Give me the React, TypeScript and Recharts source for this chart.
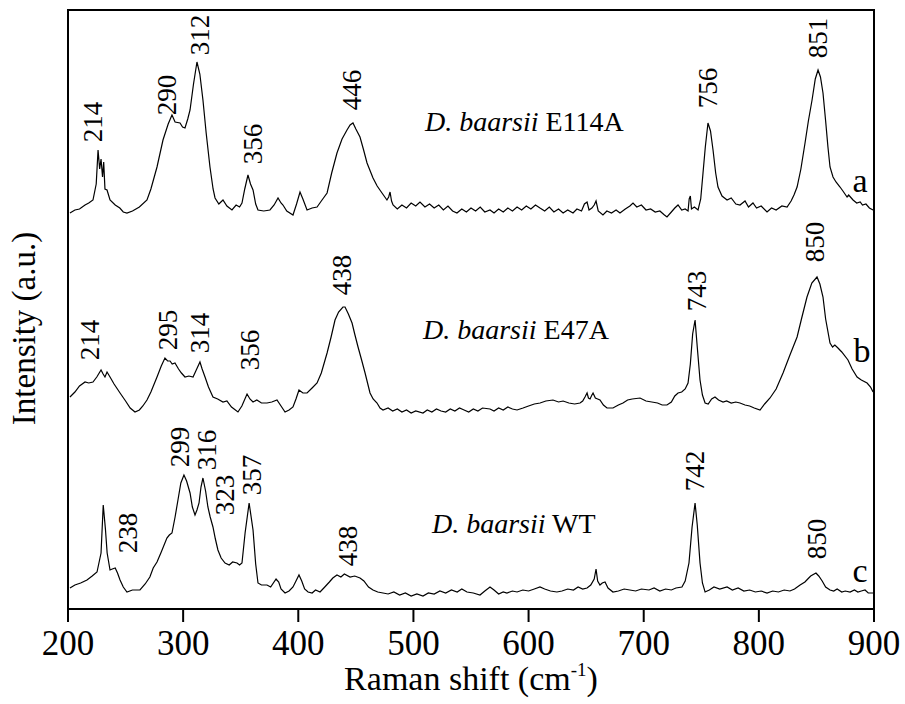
import React from "react";
import { ComposedChart, Line, Scatter, XAxis, YAxis, ReferenceArea, Label } from "recharts";

// Raman shift (cm-1), offset intensity (a.u.)
const traceA: [number, number][] = [
  [201.7, 396], [206, 399], [210, 400], [214.8, 404], [218, 406], [221.7, 409], [224.5, 425], [226.1, 459], [227.5, 440],
  [228.7, 450], [230, 432], [231, 447], [232.1, 420], [233.9, 419], [236.5, 409], [241, 404], [245, 401],
  [248, 397], [251.2, 396], [256, 398], [262, 402], [268.6, 409], [272, 420], [277.3, 442], [282.5, 469],
  [287, 485], [290.3, 494], [293, 487], [297.3, 486], [299.5, 482], [301.6, 481], [304, 490], [306, 499],
  [309, 525], [312, 547], [314.5, 535], [317.2, 509], [320, 476], [323.3, 442], [326, 420], [327.7, 411],
  [331, 405], [334.6, 409], [338, 403], [342.4, 399], [346, 404], [349, 402], [351.1, 406], [353.5, 420],
  [356.3, 434], [358.5, 425], [360.7, 419], [363, 405], [365, 399], [370, 398], [375.4, 399], [379, 404],
  [382.4, 411], [385, 406], [386.7, 404], [390, 398], [395.4, 394], [398.5, 405], [401.5, 417], [404, 410],
  [407.6, 399], [412, 401], [416.3, 402], [420, 408], [425, 416], [429, 436], [433.6, 456], [438, 470],
  [442.3, 479], [445, 484], [447.5, 486], [450, 480], [453.6, 472], [456.5, 460], [459.7, 446], [464.9, 431],
  [468.5, 423], [472.7, 416], [477, 409], [478.5, 412], [479.7, 417], [481, 408], [482.3, 404], [486, 400],
  [490, 404], [494, 401], [498, 406], [502, 403], [505.7, 407], [510, 402], [514, 405], [518, 401],
  [522, 404], [526, 399], [530, 403], [534, 398], [537.8, 396], [542, 400], [546, 397], [550, 401],
  [554, 398], [558, 402], [562, 397], [566.5, 399], [570, 396], [574, 400], [578, 397], [582, 401],
  [586, 398], [590, 402], [594, 399], [598, 403], [602, 400], [606, 404], [609.9, 401], [614, 398],
  [618, 402], [622, 397], [626, 400], [630, 396], [634, 399], [638.6, 396], [642, 400], [646, 398],
  [648.5, 405], [650.8, 407], [652.5, 399], [655, 401], [657, 404], [658.6, 408], [660.5, 398], [664.6, 394],
  [668, 398], [672, 396], [676, 399], [679.4, 396], [684, 400], [688, 403], [690.7, 406], [694, 402],
  [698, 404], [702, 399], [706, 400], [710, 397], [714, 398], [718, 394], [720.2, 392], [724, 397],
  [727, 401], [729.8, 404], [733, 399], [736, 400], [738.5, 398], [739.5, 410], [740.5, 413], [741.5, 400],
  [744, 402], [747.2, 399], [749.5, 410], [751.5, 436], [753.5, 462], [755.8, 486], [758, 478], [760.2, 459],
  [762.5, 436], [764.5, 422], [768, 413], [772.4, 409], [776, 411], [780, 405], [783.6, 404], [788, 408],
  [791, 402], [794.9, 406], [798, 401], [802, 403], [807.1, 397], [811, 401], [815, 399], [820, 403],
  [824.5, 402], [828, 408], [830.5, 414], [833.2, 422], [836.5, 440], [840.1, 466], [843, 488], [846.2, 509],
  [849, 530], [851.4, 539], [853.5, 532], [855.7, 516], [858, 488], [860, 462], [861.8, 442], [864.4, 432],
  [867, 427], [870.5, 422], [873, 418], [876.6, 412], [878, 414], [881.8, 409], [885, 406], [888, 407],
  [890, 404], [893, 405], [896, 401], [899.2, 399],
];

const traceB: [number, number][] = [
  [201.7, 212], [206, 217], [210, 223], [214.8, 227], [218, 226], [221.7, 227], [225, 232], [228.7, 239],
  [230.5, 235], [232.1, 232], [233.9, 237], [236.5, 232], [240, 225], [245.2, 216], [250, 208], [254, 201],
  [258.2, 197], [262, 199], [265, 203], [268.6, 209], [272, 217], [277.3, 232], [281, 243], [284.2, 251],
  [286.5, 248], [288.6, 248], [290.5, 245], [292.9, 246], [296, 240], [298.5, 236], [301.6, 232], [305, 233],
  [308.6, 232], [311, 238], [314.6, 247], [316.5, 240], [319, 232], [322, 222], [325.9, 212], [330, 210],
  [334.6, 207], [338, 208], [342, 202], [347.6, 197], [351, 203], [355.5, 215], [358, 210], [360.7, 207],
  [364, 209], [368, 206], [372.8, 206], [377, 207], [381.5, 209], [385, 203], [388.5, 197], [392, 199],
  [395.4, 202], [398, 210], [400.6, 219], [404, 216], [407.6, 216], [412, 221], [416.3, 226], [420, 236],
  [425, 256], [428.5, 272], [431.9, 289], [435, 297], [438.8, 302], [440.6, 302], [443.5, 295], [446.7, 286],
  [449, 275], [451.9, 262], [455, 249], [458, 236], [462.3, 216], [465, 210], [468.4, 206], [471, 201],
  [473.6, 199], [478, 201], [482, 198], [486, 200], [490, 197], [494, 199], [498, 196], [502, 198],
  [508.3, 196], [512, 199], [516, 197], [520, 200], [524, 198], [528, 197], [532, 200], [536, 198],
  [540, 201], [544, 199], [548, 197], [552, 200], [556, 198], [560, 201], [566.5, 200], [570, 198],
  [574, 201], [578, 199], [582, 202], [586, 200], [590, 199], [595.2, 201], [600, 203], [605, 205],
  [610, 206], [615, 208], [621.2, 209], [626, 207], [630, 208], [635, 206], [640, 205], [644.7, 206],
  [647, 208], [649, 212], [650.8, 216], [652, 211], [653.4, 210], [655, 214], [656, 216], [658, 211],
  [660, 210], [662, 209], [665, 204], [668.1, 201], [673.3, 201], [678, 204], [682, 206], [686, 209],
  [690, 210], [696.8, 211], [702, 208], [707, 207], [712, 206], [716, 204], [720.2, 204], [724, 207],
  [727, 213], [729.8, 216], [733, 217], [736, 220], [738.5, 226], [740.5, 245], [742.5, 275], [744.6, 289],
  [746.5, 262], [748.9, 229], [751, 214], [753.3, 206], [756, 205], [759, 210], [761.9, 212], [765, 209],
  [768.9, 207], [772, 208], [776, 206], [780, 207], [783.6, 206], [788, 204], [792, 203], [796, 201],
  [801, 199], [805, 205], [809.7, 211], [815, 220], [821, 236], [827, 254], [833.2, 272], [837, 290],
  [841.8, 312], [846, 326], [850.5, 332], [853, 325], [855.7, 312], [858, 290], [861.8, 266], [864, 262],
  [866, 264], [868.7, 261], [872, 257], [877.4, 249], [881, 240], [885.3, 232], [889, 229], [894, 226],
  [897, 222], [899.2, 217],
];

const traceC: [number, number][] = [
  [201.7, 21], [206, 24], [211, 26], [216.5, 29], [221, 33], [225.2, 37], [228.7, 56], [230.6, 104],
  [232.5, 80], [234, 56], [236.5, 39], [238.5, 40], [241, 41], [243, 36], [245.2, 29], [248, 22],
  [251.2, 17], [256, 19], [262.5, 19], [267, 25], [271.1, 32], [274, 41], [277.3, 47], [281, 57],
  [285.9, 71], [288, 74], [290.3, 76], [293, 92], [295.5, 109], [298, 126], [300.7, 134], [303, 128],
  [306, 116], [308, 102], [310.3, 94], [312, 99], [313.8, 106], [315.5, 122], [317.2, 131], [319.5, 118],
  [321.5, 102], [323.5, 92], [325.9, 82], [328, 70], [330.2, 59], [333, 51], [336.4, 46], [340, 44],
  [343, 47], [346.8, 46], [349, 44], [351.1, 46], [353.8, 76], [357.3, 106], [360.7, 79], [363, 45],
  [365, 26], [368, 24], [372.8, 24], [376, 22], [380.7, 30], [383, 27], [385, 20], [388.5, 16],
  [392, 18], [395.4, 22], [398, 28], [400.6, 34], [403, 28], [405.5, 20], [408.5, 17], [412, 16],
  [415, 19], [418.9, 17], [423, 22], [427, 27], [430, 31], [433.6, 34], [437, 32], [440, 35],
  [445, 32], [449, 33], [453.6, 31], [457, 28], [461, 22], [464.9, 19], [469, 17], [473.6, 16],
  [478, 15], [483, 17], [488, 14], [493, 16], [498, 13], [503, 15], [508.3, 13], [513, 16],
  [518, 15], [523, 18], [528, 16], [533, 19], [538, 17], [542, 20], [546.5, 17], [552, 16],
  [557.8, 14], [562, 18], [566.5, 22], [570, 19], [574, 15], [578, 17], [581.2, 16], [586, 18],
  [590, 17], [595, 19], [600, 18], [605, 20], [609.9, 22], [614, 20], [619, 18], [624.6, 17],
  [629, 18], [634, 20], [639, 19], [643, 22], [647, 20], [650.8, 21], [654, 24], [657, 30],
  [658.6, 40], [660, 28], [662, 24], [664, 26], [666.4, 27], [669, 21], [673.3, 17], [678, 18],
  [683, 20], [688, 19], [693, 18], [698, 20], [704.6, 19], [709, 21], [714, 18], [719, 20],
  [724, 19], [728, 21], [733.2, 22], [736, 28], [739.3, 46], [742, 82], [744.6, 106], [746.5, 84],
  [748.9, 46], [751, 26], [753.3, 17], [757, 19], [761, 22], [766, 20], [772.4, 22], [777, 19],
  [782, 21], [787, 18], [792, 19], [797, 17], [802, 18], [807.1, 16], [812, 18], [817, 17],
  [822, 19], [827, 18], [831, 20], [835.8, 24], [840, 27], [845, 33], [849.6, 36], [852, 33],
  [855, 28], [858, 22], [861.8, 19], [865, 18], [868, 20], [872, 17], [875, 18], [879.2, 17],
  [883, 19], [886, 17], [889, 18], [892.2, 19], [895, 16], [899.2, 16],
];

const peakLabelText = [
  "214", "290", "312", "356", "446", "756", "851",
  "214", "295", "314", "356", "438", "743", "850",
  "299", "316", "323", "357", "238", "438", "742", "850",
];
const peakLabelShift = [
  221.7, 286, 314.6, 360.7, 446.7, 755.8, 851.4,
  219, 286.9, 314.6, 358, 438, 746.3, 848.8,
  297.3, 320.7, 336.4, 359.8, 252.1, 443, 744.6, 850.5,
];
const peakLabelIntensity = [
  487, 514, 574, 465, 519, 521, 571,
  269, 279, 276, 259, 334, 318, 367,
  162, 159, 114, 134, 76, 63, 138, 70,
];

const sampleNames = ["E114A", "E47A", "WT"];
const sampleShift = [510, 508.3, 516.1];
const sampleIntensity = [478, 270, 76];

const traceLetters = ["a", "b", "c"];
const letterShift = [887.9, 889.6, 887.9];
const letterIntensity = [417, 247, 27];

const xTicks = [200, 300, 400, 500, 600, 700, 800, 900];
const yTicks = [222, 452];

const FONT = "Liberation Serif, Times New Roman, serif";

const toPoints = (arr: [number, number][]) => arr.map(([x, y]) => ({ x, y }));
const dataA = toPoints(traceA);
const dataB = toPoints(traceB);
const dataC = toPoints(traceC);
const peakLabels = peakLabelText.map((text, i) => ({ x: peakLabelShift[i], y: peakLabelIntensity[i], text }));
const sampleLabels = sampleNames.map((text, i) => ({ x: sampleShift[i], y: sampleIntensity[i], text }));
const letterLabels = traceLetters.map((text, i) => ({ x: letterShift[i], y: letterIntensity[i], text }));

const PeakLabel = (p: any) => (
  <text
    x={p.cx}
    y={p.cy}
    transform={`rotate(-90 ${p.cx} ${p.cy})`}
    textAnchor="middle"
    dominantBaseline="central"
    fontFamily={FONT}
    fontSize={27}
    fill="#000"
  >
    {p.payload.text}
  </text>
);

const SampleLabel = (p: any) => (
  <text x={p.cx} y={p.cy} textAnchor="start" fontFamily={FONT} fontSize={28} fill="#000">
    <tspan fontStyle="italic">D. baarsii</tspan>
    <tspan> {p.payload.text}</tspan>
  </text>
);

const LetterLabel = (p: any) => (
  <text x={p.cx} y={p.cy} textAnchor="middle" fontFamily={FONT} fontSize={34} fill="#000">
    {p.payload.text}
  </text>
);

const XLabel = (props: any) => {
  const vb = props.viewBox;
  return (
    <text x={vb.x + vb.width / 2} y={vb.y + 81} textAnchor="middle" fontFamily={FONT} fontSize={34} fill="#000">
      Raman shift (cm
      <tspan fontSize={19} dy={-14}>-1</tspan>
      <tspan dy={14}>)</tspan>
    </text>
  );
};

const YLabel = (props: any) => {
  const vb = props.viewBox;
  const x = vb.x + 35;
  const y = vb.y + 318.5;
  return (
    <text x={x} y={y} transform={`rotate(-90 ${x} ${y})`} textAnchor="middle" fontFamily={FONT} fontSize={33} fill="#000">
      Intensity (a.u.)
    </text>
  );
};

export default function App() {
  return (
    <div style={{ position: "absolute", left: 0, top: 0, width: 905, height: 704 }}>
      <ComposedChart width={905} height={704} margin={{ top: 10, right: 31, bottom: 0, left: 0 }}>
        <XAxis
          type="number"
          dataKey="x"
          domain={[200, 900]}
          ticks={xTicks}
          allowDataOverflow
          height={95}
          tickSize={13}
          tickMargin={8}
          axisLine={{ stroke: "#000", strokeWidth: 2 }}
          tickLine={{ stroke: "#000", strokeWidth: 2 }}
          tick={{ fontFamily: FONT, fontSize: 35, fill: "#000" }}
        >
          <Label content={XLabel} />
        </XAxis>
        <YAxis
          type="number"
          domain={[0, 599]}
          ticks={yTicks}
          allowDataOverflow
          width={68}
          tick={false}
          tickSize={-5}
          axisLine={{ stroke: "#000", strokeWidth: 2 }}
          tickLine={{ stroke: "#000", strokeWidth: 1.5 }}
        >
          <Label content={YLabel} />
        </YAxis>
        <ReferenceArea x1={200} x2={900} y1={0} y2={599} fill="none" stroke="#000" strokeWidth={2} ifOverflow="visible" />
        <Line data={dataA} dataKey="y" type="linear" dot={false} stroke="#000" strokeWidth={1.2} isAnimationActive={false} />
        <Line data={dataB} dataKey="y" type="linear" dot={false} stroke="#000" strokeWidth={1.2} isAnimationActive={false} />
        <Line data={dataC} dataKey="y" type="linear" dot={false} stroke="#000" strokeWidth={1.2} isAnimationActive={false} />
        <Scatter data={peakLabels} dataKey="y" shape={PeakLabel} isAnimationActive={false} />
        <Scatter data={sampleLabels} dataKey="y" shape={SampleLabel} isAnimationActive={false} />
        <Scatter data={letterLabels} dataKey="y" shape={LetterLabel} isAnimationActive={false} />
      </ComposedChart>
    </div>
  );
}
